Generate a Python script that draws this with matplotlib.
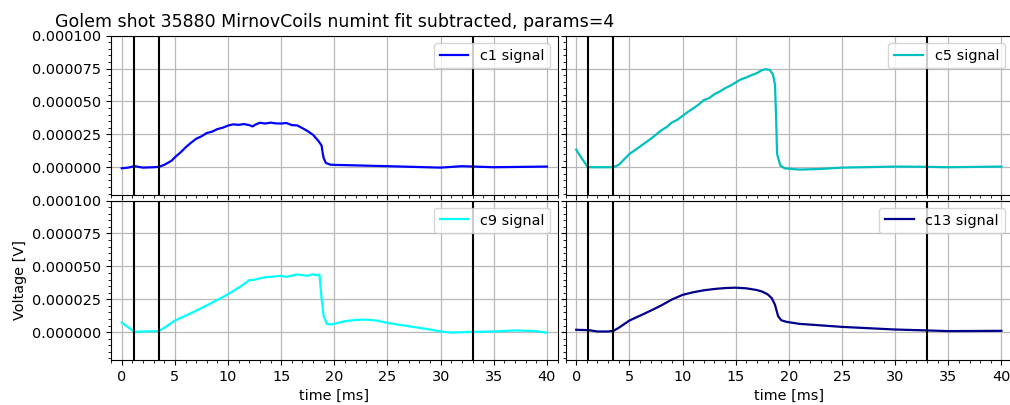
import numpy as np
import matplotlib
matplotlib.use("Agg")
import matplotlib.pyplot as plt
from matplotlib.ticker import FormatStrFormatter, AutoMinorLocator

# Mirnov coil signals (time in ms, voltage in microvolts)
t_c1 = [0, 0.6, 1.2, 2.0, 3.0, 3.5, 4.0, 4.7, 5.0, 5.5, 6.0, 6.5, 7.0, 7.5, 8.0, 8.5,
        9.0, 9.5, 10.0, 10.5, 11.0, 11.5, 12.0, 12.3, 12.6, 13.0, 13.5, 14.0, 14.5,
        15.0, 15.5, 16.0, 16.5, 17.0, 17.5, 18.0, 18.5, 18.8, 18.9, 19.0, 19.2, 19.6,
        20.0, 25.0, 30.0, 32.0, 35.0, 40.0]
v_c1 = [-0.8, -0.3, 0.8, -0.3, 0.0, 0.3, 1.8, 5.0, 7.6, 11.0, 15.0, 18.5, 21.6, 23.5,
        26.0, 27.0, 29.0, 30.0, 31.7, 32.6, 32.2, 32.8, 32.0, 31.0, 32.5, 33.8, 33.2,
        33.9, 33.3, 33.2, 33.6, 32.0, 31.8, 29.7, 27.4, 24.6, 20.0, 16.5, 11.0, 6.9,
        3.3, 2.0, 1.8, 0.8, -0.3, 0.8, 0.0, 0.5]

t_c5 = [0, 0.5, 1.1, 2.0, 3.5, 4.0, 5.0, 6.0, 7.0, 8.0, 8.5, 9.0, 9.5, 10.0, 10.5,
        11.0, 11.5, 12.0, 12.5, 13.0, 13.5, 14.0, 14.5, 15.0, 15.5, 16.0, 16.5, 17.0,
        17.4, 17.8, 18.2, 18.5, 18.7, 18.8, 18.9, 19.2, 19.6, 21.0, 23.0, 25.0, 30.0,
        33.0, 35.0, 40.0]
v_c5 = [13.4, 7.0, 0.0, 0.0, 0.0, 1.8, 10.0, 15.7, 21.5, 28.0, 30.5, 34.0, 36.0, 39.0,
        42.0, 44.7, 47.5, 51.0, 52.5, 55.5, 57.5, 60.0, 62.0, 64.4, 66.8, 68.2, 70.0,
        71.5, 73.5, 74.5, 74.0, 70.7, 63.0, 39.0, 10.0, 1.3, -0.8, -1.8, -1.3, -0.3,
        0.5, 0.3, 0.0, 0.5]

t_c9 = [0, 1.2, 2.0, 3.5, 4.0, 5.0, 6.0, 7.0, 8.0, 9.0, 10.0, 11.0, 11.5, 12.0, 12.5,
        13.0, 13.5, 14.0, 14.5, 15.0, 15.5, 16.0, 16.5, 17.0, 17.5, 18.0, 18.3, 18.6,
        18.8, 19.0, 19.3, 19.7, 21.0, 22.0, 23.0, 24.0, 25.0, 27.0, 29.0, 30.0, 31.0,
        33.0, 35.0, 37.0, 39.0, 40.0]
v_c9 = [7.3, 0.2, 0.5, 0.8, 3.3, 8.8, 12.5, 16.3, 20.3, 24.5, 28.8, 33.8, 36.5, 39.5,
        39.8, 40.8, 41.8, 42.0, 42.5, 42.8, 42.0, 43.0, 43.8, 43.3, 42.8, 44.0, 43.2,
        43.8, 25.8, 12.0, 6.3, 5.8, 8.3, 9.3, 9.5, 8.8, 7.0, 4.5, 2.0, 0.5, -0.3, 0.2,
        0.5, 1.3, 0.8, -0.5]

t_c13 = [0, 1.2, 2.0, 3.0, 3.5, 4.0, 5.0, 6.0, 7.0, 8.0, 9.0, 10.0, 11.0, 12.0, 13.0,
         14.0, 15.0, 16.0, 17.0, 17.5, 18.0, 18.4, 18.7, 19.0, 19.3, 19.8, 21.0, 25.0,
         30.0, 33.0, 35.0, 40.0]
v_c13 = [1.8, 1.5, 0.5, 0.5, 1.0, 3.3, 8.8, 12.5, 16.3, 20.3, 24.8, 28.3, 30.3, 31.8,
         32.8, 33.5, 33.8, 33.3, 32.0, 30.8, 28.8, 25.8, 20.8, 12.0, 9.0, 7.8, 6.3, 4.0,
         2.0, 1.3, 0.8, 1.0]

labels = ["c1 signal", "c5 signal", "c9 signal", "c13 signal"]
colors = ["blue", "c", "cyan", "darkblue"]
times = [t_c1, t_c5, t_c9, t_c13]
signals = [v_c1, v_c5, v_c9, v_c13]

# plasma start / current ramp / end markers [ms]
markers = [1.15, 3.5, 33.0]

plt.rcParams["font.size"] = 10.4

fig, axes = plt.subplots(2, 2, sharex=True, sharey=True, figsize=(10.1, 4.05), dpi=100)
fig.subplots_adjust(left=0.110, right=1.002, top=0.912, bottom=0.111,
                    wspace=0.018, hspace=0.034)

for ax, t, v, lab, col in zip(axes.flat, times, signals, labels, colors):
    ax.plot(t, np.array(v) * 1e-6, color=col, lw=1.6, label=lab)
    for m in markers:
        ax.axvline(m, color="black", lw=1.5)
    ax.grid(True, which="major", color="#b8b8b8", lw=0.9)
    ax.legend(loc="upper right")
    ax.xaxis.set_minor_locator(AutoMinorLocator())
    ax.yaxis.set_minor_locator(AutoMinorLocator())

ax0 = axes[0, 0]
ax0.set_xlim(-1, 41)
ax0.set_ylim(-2.12e-5, 1e-4)
ax0.set_xticks(np.arange(0, 41, 5))
ax0.set_yticks(np.arange(0, 1.01e-4, 2.5e-5))
ax0.yaxis.set_major_formatter(FormatStrFormatter("%.6f"))
ax0.set_title("Golem shot 35880 MirnovCoils numint fit subtracted, params=4", fontsize=12.5)

axes[1, 0].set_ylabel("Voltage [V]")
axes[1, 0].set_xlabel("time [ms]")
axes[1, 1].set_xlabel("time [ms]")

fig.savefig("out.png", dpi=100)
